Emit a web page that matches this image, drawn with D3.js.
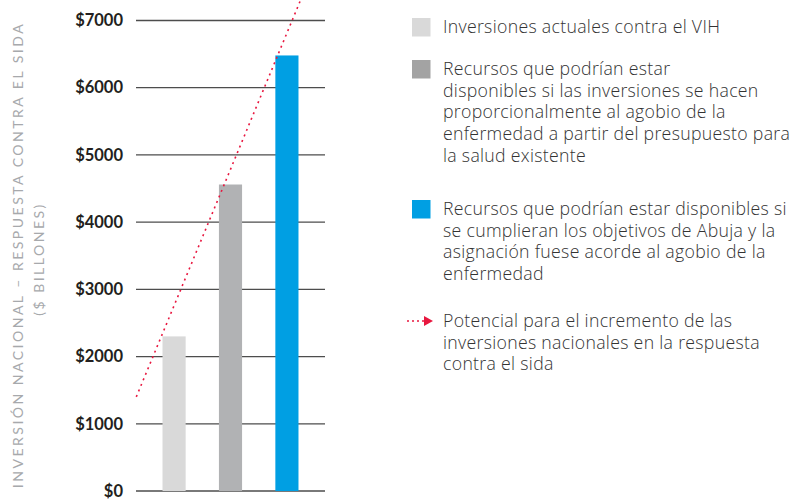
<!DOCTYPE html>
<html><head><meta charset="utf-8">
<script src="https://cdn.jsdelivr.net/npm/d3@7"></script>
<style>html,body{margin:0;padding:0;background:#fff;}svg{display:block;}</style>
</head><body><div id="chart"></div>
<script>
const categories = ["actual", "proporcional", "abuja"];
const values = [2300, 4560, 6480];
const barColors = ["#d9d9d9", "#b1b2b4", "#009fe3"];
const legendColors = ["#d9d9d9", "#a3a3a3", "#009fe3"];
const yTicks = [0, 1000, 2000, 3000, 4000, 5000, 6000, 7000];
const trendPos = [-0.67, 2.24];
const trendValues = [1400, 7300];
const legendLines = [
  ["Inversiones actuales contra el VIH"],
  ["Recursos que podrían estar", "disponibles si las inversiones se hacen", "proporcionalmente al agobio de la", "enfermedad a partir del presupuesto para", "la salud existente"],
  ["Recursos que podrían estar disponibles si", "se cumplieran los objetivos de Abuja y la", "asignación fuese acorde al agobio de la", "enfermedad"],
  ["Potencial para el incremento de las", "inversiones nacionales en la respuesta", "contra el sida"]
];
const axisTitle = ["INVERSIÓN NACIONAL – RESPUESTA CONTRA EL SIDA", "($ BILLONES)"];

const W = 795, H = 502;
const svg = d3.select("#chart").append("svg").attr("width", W).attr("height", H);

const y = d3.scaleLinear().domain([0, 7000]).range([491, 20.5]);
const x = d3.scaleBand().domain(categories).range([136, 325]).paddingInner(0.59).paddingOuter(0.47);
const xPos = d3.scaleLinear().domain([0, 1]).range([x(categories[0]) + x.bandwidth()/2, x(categories[1]) + x.bandwidth()/2]);

// grid
const yAxis = d3.axisLeft(y).tickValues(yTicks).tickSize(0).tickPadding(13).tickFormat(d => "$" + d);
const gAxis = svg.append("g").attr("transform", "translate(136,0)").call(yAxis);
gAxis.select(".domain").remove();
gAxis.selectAll("text").attr("font-family", "Lato, sans-serif").attr("font-weight", 700)
  .attr("font-size", 16.5).attr("fill", "#231f20");
svg.append("g").selectAll("line").data(yTicks).join("line")
  .attr("x1", 136).attr("x2", 325).attr("y1", d => y(d)).attr("y2", d => y(d))
  .attr("stroke", "#4d4d4d").attr("stroke-width", 1.3);

// bars
svg.append("g").selectAll("rect").data(values).join("rect")
  .attr("x", (d, i) => x(categories[i])).attr("width", x.bandwidth())
  .attr("y", d => y(d)).attr("height", d => y(0) - y(d))
  .attr("fill", (d, i) => barColors[i]);

// trend
svg.append("path")
  .attr("d", d3.line()(trendPos.map((p, i) => [xPos(p), y(trendValues[i])])))
  .attr("stroke", "#e8173f").attr("stroke-width", 1.6).attr("stroke-dasharray", "2,4").attr("fill", "none");

// axis title
const tg = svg.append("g").attr("font-family", "Lato, sans-serif").attr("fill", "#a7a9ac").attr("font-size", 14).attr("letter-spacing", 2.5);
tg.append("text").attr("transform", "translate(23,255) rotate(-90)").attr("text-anchor", "middle").text(axisTitle[0]);
tg.append("text").attr("transform", "translate(44,259) rotate(-90)").attr("text-anchor", "middle").text(axisTitle[1]);

// legend
const legendTop = [33, 75, 215, 327];
const lg = svg.append("g").attr("font-family", "'Open Sans', sans-serif").attr("font-weight", 300).attr("font-size", 17.7).attr("letter-spacing", 0.3).attr("fill", "#333");
legendLines.forEach((lines, i) => {
  if (i < 3) {
    lg.append("rect").attr("x", 412).attr("y", legendTop[i] - 15).attr("width", 18.5).attr("height", 18.5).attr("fill", legendColors[i]);
  } else {
    lg.append("line").attr("x1", 407).attr("x2", 425).attr("y1", legendTop[i] - 6).attr("y2", legendTop[i] - 6)
      .attr("stroke", "#e8173f").attr("stroke-width", 1.5).attr("stroke-dasharray", "2,3");
    lg.append("path").attr("d", `M424,${legendTop[i]-11}L433,${legendTop[i]-6}L424,${legendTop[i]-1}Z`).attr("fill", "#e8173f");
  }
  const t = lg.append("text").attr("x", 443).attr("y", legendTop[i]);
  lines.forEach((l, j) => t.append("tspan").attr("x", 443).attr("dy", j === 0 ? 0 : 21.7).text(l));
});
</script></body></html>
